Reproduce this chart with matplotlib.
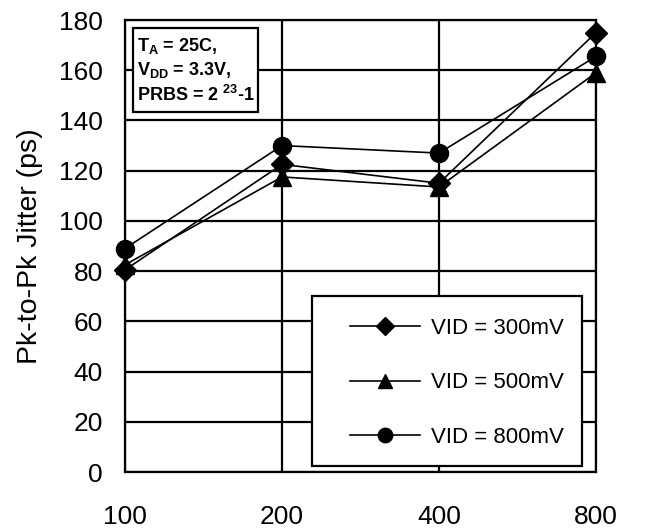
import matplotlib
matplotlib.use("Agg")
import matplotlib.pyplot as plt
from matplotlib.patches import Rectangle

plt.rcParams['font.family'] = ['Liberation Sans', 'DejaVu Sans']

data_rates = [100, 200, 400, 800]
vid300 = [80.5, 122.5, 115, 175]
vid500 = [82.5, 117.5, 113.5, 159]
vid800 = [89, 130, 127, 165.5]
series_labels = ['VID = 300mV', 'VID = 500mV', 'VID = 800mV']
y_ticks = [0, 20, 40, 60, 80, 100, 120, 140, 160, 180]

W, H = 664, 531
AX_L, AX_R, AX_T, AX_B = 125, 596, 20, 472
fig = plt.figure(figsize=(W/100, H/100), dpi=100)
ax = fig.add_axes([AX_L/W, 1-AX_B/H, (AX_R-AX_L)/W, (AX_B-AX_T)/H])

def ax_x(px):
    return (px - AX_L) / (AX_R - AX_L)

def ax_y(py):
    return (AX_B - py) / (AX_B - AX_T)

ax.set_xscale('log', base=2)
ax.set_xlim(100, 800)
ax.set_ylim(0, 180)
ax.set_xticks(data_rates)
ax.set_xticklabels([str(v) for v in data_rates])
ax.minorticks_off()
ax.set_yticks(y_ticks)
ax.tick_params(axis='both', length=0, labelsize=19)
ax.tick_params(axis='x', pad=24)
ax.tick_params(axis='y', pad=16)
ax.grid(True, color='black', linewidth=1.6)
ax.set_axisbelow(True)
for s in ax.spines.values():
    s.set_linewidth(1.6)

ax.plot(data_rates, vid300, color='black', lw=1.2, marker='D', ms=11, label=series_labels[0], clip_on=False, zorder=3)
ax.plot(data_rates, vid500, color='black', lw=1.2, marker='^', ms=12.5, label=series_labels[1], clip_on=False, zorder=3)
ax.plot(data_rates, vid800, color='black', lw=1.2, marker='o', ms=13, label=series_labels[2], clip_on=False, zorder=3)

ax.set_ylabel('Pk-to-Pk Jitter (ps)', fontsize=20.5)
ax.yaxis.set_label_coords(ax_x(43), 0.5)

# legend box
ax.add_patch(Rectangle((ax_x(312), ax_y(466)), ax_x(582) - ax_x(312), ax_y(296) - ax_y(466),
                       transform=ax.transAxes, facecolor='white', edgecolor='black',
                       linewidth=1.6, zorder=4))
leg = ax.legend(loc='center left', bbox_to_anchor=(ax_x(350), ax_y(383)),
                fontsize=16, frameon=False,
                handlelength=3.15, handletextpad=0.5, labelspacing=1.5,
                borderpad=0, borderaxespad=0, markerscale=0.8)
leg.set_zorder(5)

# annotation box
ax.add_patch(Rectangle((ax_x(133), ax_y(112)), ax_x(258) - ax_x(133), ax_y(28) - ax_y(112),
                       transform=ax.transAxes, facecolor='white', edgecolor='black',
                       linewidth=1.6, zorder=4))
ax.text(ax_x(137), ax_y(36),
        r'T$_\mathregular{A}$ = 25C,' + '\n' + r'V$_\mathregular{DD}$ = 3.3V,' + '\n' + r'PRBS = 2 $^\mathregular{23}$-1',
        transform=ax.transAxes, fontsize=13, fontweight='bold', va='top', ha='left',
        linespacing=1.3, zorder=5)

fig.savefig('out.png', dpi=100)
